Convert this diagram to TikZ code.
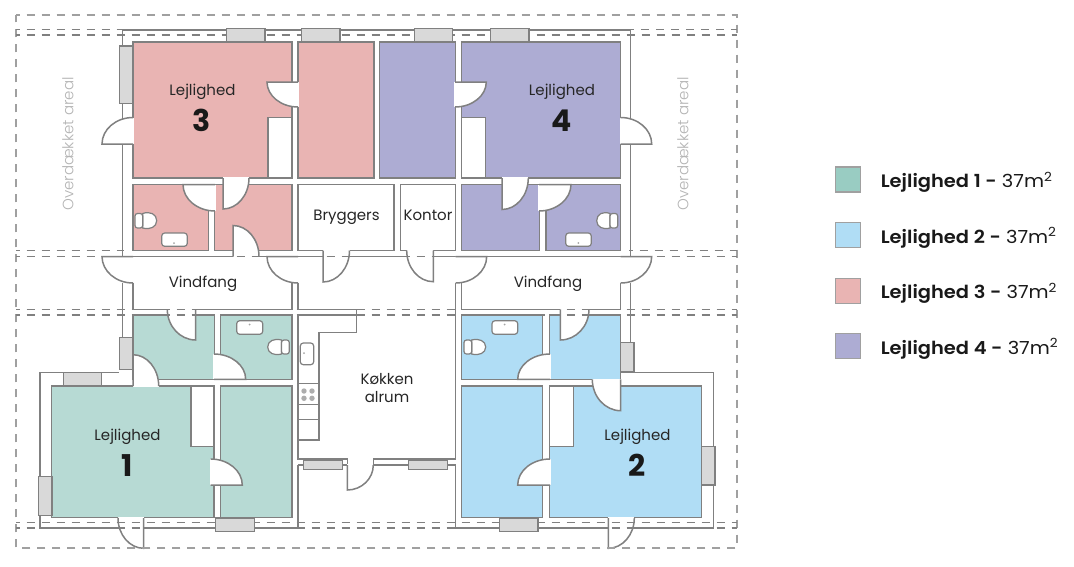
\documentclass[tikz,border=0pt]{standalone}
\usepackage{fontspec}
\setmainfont[BoldFont={Poppins SemiBold}]{Poppins}
\newfontfamily\keyfont[FakeStretch=1.08,BoldFont={Poppins SemiBold}]{Poppins}
\newfontfamily\lysfont{Poppins Light}
\newfontfamily\numfont{Poppins Bold}
\usetikzlibrary{calc, positioning}

\definecolor{gronrum}{HTML}{B7DAD4}
\definecolor{gronkey}{HTML}{99CCC2}
\definecolor{blarum}{HTML}{B0DDF5}
\definecolor{rodrum}{HTML}{E9B4B3}
\definecolor{lillarum}{HTML}{ADACD3}
\definecolor{vaeg}{HTML}{808080}
\definecolor{kant}{HTML}{A0A0A0}
\definecolor{vindue}{HTML}{D9D9D9}
\definecolor{areal}{HTML}{B4B4B4}

% hinge, tip of the leaf, other jamb
\newcommand{\doerblad}[3]{
  \fill[white] (#1) -- (#2) .. controls ($(#2)+0.55*(#3)-0.55*(#1)$) and ($(#3)+0.55*(#2)-0.55*(#1)$) .. (#3) -- cycle;
  \draw[white, line width=1.6pt] (#1) -- (#3);
  \draw[wall] (#1) -- (#2) .. controls ($(#2)+0.55*(#3)-0.55*(#1)$) and ($(#3)+0.55*(#2)-0.55*(#1)$) .. (#3);
}

\begin{document}
\begin{tikzpicture}[
  x=1pt, y=-1pt,
  wall/.style={draw=vaeg, line width=1.5pt},
  room/.style={draw=vaeg, line width=1.5pt},
  window/.style={draw=vaeg, line width=1.5pt, fill=vindue},
  fixture/.style={draw=vaeg, line width=1.2pt, fill=white},
  tagline/.style={draw=vaeg, line width=1.2pt, dash pattern=on 8pt off 7pt, dash phase=4.3pt},
  outerline/.style={draw=kant, line width=1.5pt, dash pattern=on 8pt off 7pt, dash phase=4.3pt},
  roomtext/.style={font=\fontsize{15}{17.5}\selectfont, text=black!85, inner sep=0pt, align=center},
  roomname/.style={roomtext, anchor=base},
  bignum/.style={font=\numfont\fontsize{30}{32}\selectfont, text=black!90, inner sep=0pt, anchor=base},
  coverlabel/.style={font=\lysfont\fontsize{15}{17}\selectfont, text=areal, inner sep=0pt, rotate=90},
  keybox/.style={draw=kant, line width=1.2pt, minimum size=25pt, inner sep=0pt},
  keytext/.style={font=\keyfont\fontsize{18}{20}\selectfont, text=black!90, inner sep=0pt, yshift=-2.5pt}
]
\useasboundingbox[fill=white] (0,0) rectangle (1074,566);

% rooms
\draw[room, fill=rodrum] (133,42) rectangle (292,178);
\draw[room, fill=rodrum] (298,42) rectangle (374,178);
\draw[room, fill=rodrum] (133,184.5) rectangle (208.3,250.5);
\draw[room, fill=rodrum] (214.5,184.5) rectangle (292,250.5);
\draw[room, fill=lillarum] (379.3,42) rectangle (455.7,178);
\draw[room, fill=lillarum] (461.7,42) rectangle (620.7,178);
\draw[room, fill=lillarum] (461.7,184.5) rectangle (539.7,250.5);
\draw[room, fill=lillarum] (546,184.5) rectangle (620.7,250.5);
\draw[room, fill=white] (298,184.5) rectangle (394,250.5);
\draw[room, fill=white] (400.7,184.5) rectangle (455.7,250.5);
\draw[room, fill=white] (268,117.5) rectangle (292,178);
\draw[room, fill=white] (461.7,117.5) rectangle (485.5,178);
\draw[room, fill=gronrum] (133,315) rectangle (214.5,379.3);
\draw[room, fill=gronrum] (220.5,315) rectangle (292,379.3);
\draw[room, fill=gronrum] (51.7,386) rectangle (214.2,517.7);
\draw[room, fill=gronrum] (220.7,386) rectangle (292,517.7);
\draw[room, fill=white] (191,386) rectangle (214.2,446.7);
\draw[room, fill=blarum] (461.7,315) rectangle (542.7,379.3);
\draw[room, fill=blarum] (549.3,315) rectangle (620.7,379.3);
\draw[room, fill=blarum] (461.7,386) rectangle (542.7,517.7);
\draw[room, fill=blarum] (549.3,386) rectangle (701.7,517.7);
\draw[room, fill=white] (549.3,386) rectangle (573.3,446.7);

% walls
\draw[wall] (122.7,256.5) -- (122.7,30) -- (630.7,30) -- (630.7,256.5);
\draw[wall] (133,256.5) -- (233,256.5);
\draw[wall] (259,256.5) -- (323,256.5);
\draw[wall] (349.5,256.5) -- (406.7,256.5);
\draw[wall] (433.3,256.5) -- (620.7,256.5);
\draw[wall] (122.7,283) -- (122.7,337.3);
\draw[wall] (133,283) -- (133,309.3) -- (167.3,309.3);
\draw[wall] (195.7,309.3) -- (292,309.3) -- (292,283);
\draw[wall] (298,283) -- (298,309.3) -- (356.7,309.3) -- (356.7,332.3) -- (319,332.3) -- (319,440) -- (298,440);
\draw[wall] (356.7,315) -- (298,315) -- (298,459) -- (347.3,459) -- (347.3,465);
\draw[wall] (373.3,465) -- (373.3,459) -- (455.7,459) -- (455.7,283);
\draw[wall] (298,383.3) -- (319,383.3);
\draw[wall] (298,404.3) -- (319,404.3);
\draw[wall] (298,419.3) -- (319,419.3);
\draw[wall] (461.7,283) -- (461.7,309.3) -- (560.3,309.3);
\draw[wall] (589,309.3) -- (620.7,309.3) -- (620.7,283);
\draw[wall] (630.7,283) -- (630.7,342.3);
\draw[wall] (298,465) -- (303,465);
\draw[wall] (342,465) -- (347.3,465);
\draw[wall] (373.3,465) -- (408,465);
\draw[wall] (447,465) -- (455.7,465) -- (455.7,528) -- (608.3,528);
\draw[wall] (634.3,528) -- (713.3,528) -- (713.3,372.3) -- (620.7,372.3);
\draw[wall] (298,465) -- (298,528) -- (143.7,528);
\draw[wall] (118,528) -- (40,528) -- (40,372.3) -- (119.3,372.3);

% doors
\doerblad{298,82}{267,82}{298,107}
\doerblad{133,144}{102,144}{133,117.5}
\doerblad{223,178}{223,209}{249,178}
\doerblad{215,184.5}{183,184.5}{215,211}
\doerblad{233,256.5}{233,225.5}{259,256.5}
\doerblad{133,256.5}{102,256.5}{133,283}
\doerblad{298,256.5}{267,256.5}{298,283}
\doerblad{323,250.5}{323,282}{349.5,250.5}
\doerblad{433.3,250.5}{433.3,281.7}{406.7,250.5}
\doerblad{455.7,256.5}{486.7,256.5}{455.7,283}
\doerblad{620.7,256.5}{651.7,256.5}{620.7,283}
\doerblad{455,82}{486.3,82}{455,107}
\doerblad{620.7,144}{651.7,144}{620.7,117.5}
\doerblad{502,178}{502,209.5}{528.3,178}
\doerblad{539,184.5}{571,184.5}{539,211}
\doerblad{195.7,309.3}{195.7,340}{167.3,309.3}
\doerblad{214,379.3}{245.7,379.3}{214,354}
\doerblad{133,386}{133,354.7}{158.7,386}
\doerblad{210.7,485}{242.3,485}{210.7,459}
\doerblad{143.7,518}{143.7,548.3}{118,518}
\doerblad{347.3,465}{347.3,490}{373.3,465}
\doerblad{560.3,309.3}{560.3,340}{589,309.3}
\doerblad{550,379.3}{517.7,379.3}{550,354}
\doerblad{620.7,379.3}{620.7,410.7}{592.3,379.3}
\doerblad{550,485}{517.7,485}{550,459}
\doerblad{608.3,518}{608.3,548.3}{634.3,518}

% dashed roof lines
\draw[outerline] (16,15) -- (737,15) -- (737,548) -- (16,548) -- cycle;
\draw[tagline] (16,29.5) -- (122.7,29.5);
\draw[tagline] (630.7,29.5) -- (737,29.5);
\draw[tagline] (16,35) -- (737,35);
\draw[tagline] (16,250.5) -- (124,250.5);
\draw[tagline] (629,250.5) -- (737,250.5);
\draw[tagline] (16,256.5) -- (737,256.5);
\draw[tagline] (16,309.3) -- (737,309.3);
\draw[tagline] (16,315) -- (737,315);
\draw[tagline] (16,522.7) -- (737,522.7);
\draw[tagline] (16,528) -- (737,528);

% windows
\foreach \wx in {226.7,301.7,414.3,490.7}
  \draw[window] (\wx,28.3) rectangle ++(38.3,13.7);
\draw[window] (119.3,46) rectangle (133,103.5);
\draw[window] (119.3,337.3) rectangle (133,369.5);
\draw[window] (63.3,372.3) rectangle (101.7,386);
\draw[window] (38.3,476.7) rectangle (52,515.3);
\draw[window] (215.7,518) rectangle (254.7,531.3);
\draw[window] (303.3,460) rectangle (342.3,469.3);
\draw[window] (408.3,460) rectangle (447.3,469.3);
\draw[window] (620.7,342.3) rectangle (634,372);
\draw[window] (701.7,446.7) rectangle (715,485);
\draw[window] (499.3,518) rectangle (538,531.3);

% toilets and sinks
\draw[fixture] (142.7,213.5) .. controls (150,211) and (156.7,214) .. (156.7,220.7) .. controls (156.7,227) and (150,230) .. (142.7,228) -- cycle;
\draw[fixture, rounded corners=2.5pt] (135,213.5) rectangle (142.7,228);
\draw[fixture, rounded corners=3pt] (161.7,233) rectangle (187.3,246.3);
\fill[vaeg!70] (174,243) circle (1pt);
\draw[fixture] (610,213.5) .. controls (603,211) and (596.7,214) .. (596.7,220.7) .. controls (596.7,227) and (603,230) .. (610,228) -- cycle;
\draw[fixture, rounded corners=2.5pt] (610,213.5) rectangle (617.7,228);
\draw[fixture, rounded corners=3pt] (565.7,233) rectangle (591.3,246.3);
\fill[vaeg!70] (578.3,243) circle (1pt);
\draw[fixture] (281.5,340) .. controls (274,338) and (267.7,341) .. (267.7,347) .. controls (267.7,353) and (274,356) .. (281.5,354) -- cycle;
\draw[fixture, rounded corners=2.5pt] (281.5,340) rectangle (289.3,354);
\draw[fixture, rounded corners=3pt] (236.7,320.7) rectangle (262.7,334.3);
\fill[vaeg!70] (249.7,324.5) circle (1pt);
\draw[fixture] (471.7,340) .. controls (479,338) and (485.7,341) .. (485.7,347) .. controls (485.7,353) and (479,356) .. (471.7,354) -- cycle;
\draw[fixture, rounded corners=2.5pt] (464,340) rectangle (471.7,354);
\draw[fixture, rounded corners=3pt] (492,320.7) rectangle (517.7,334.3);
\fill[vaeg!70] (504.7,324.5) circle (1pt);

% kitchen sink and burners
\draw[fixture, rounded corners=3pt] (300.3,343) rectangle (313.7,364.7);
\fill[vaeg!70] (304,353) circle (1pt);
\foreach \bx in {304,312}
  \foreach \by in {391,398.3}
    \fill[black!32] (\bx,\by) circle (2.7pt);

% room names
\node[roomname] (leil3) at (202.5,95.7) {Lejlighed};
\node[bignum] (num3) at (201.7,131.7) {3};
\node[roomname] (leil4) at (562,95.7) {Lejlighed};
\node[bignum] (num4) at (561.7,131.7) {4};
\node[roomname] (leil1) at (127.5,440.7) {Lejlighed};
\node[bignum] (num1) at (126.7,476.7) {1};
\node[roomname] (leil2) at (637.5,440.7) {Lejlighed};
\node[bignum] (num2) at (637.3,476.7) {2};
\node[roomname] (vind1) at (203,287.7) {Vindfang};
\node[roomname] (vind2) at (548,287.7) {Vindfang};
\node[roomname] (brygg) at (346.5,220) {Bryggers};
\node[roomname] (kontor) at (428,220) {Kontor};
\node[roomtext] (koekken) at (387,388) {Køkken\\alrum};
\node[coverlabel] (cover1) at (68,144) {Overdækket areal};
\node[coverlabel] (cover2) at (683,144) {Overdækket areal};

% legend
\node[keybox, fill=gronkey] (key1) at (848,179.5) {};
\node[keybox, fill=blarum] (key2) at (848,235.2) {};
\node[keybox, fill=rodrum] (key3) at (848,290.7) {};
\node[keybox, fill=lillarum] (key4) at (848,346.2) {};
\node[keytext, right=19.5pt of key1] (txt1) {\textbf{Lejlighed 1 -} 37m\textsuperscript{2}};
\node[keytext, right=19.5pt of key2] (txt2) {\textbf{Lejlighed 2 -} 37m\textsuperscript{2}};
\node[keytext, right=19.5pt of key3] (txt3) {\textbf{Lejlighed 3 -} 37m\textsuperscript{2}};
\node[keytext, right=19.5pt of key4] (txt4) {\textbf{Lejlighed 4 -} 37m\textsuperscript{2}};
\end{tikzpicture}
\end{document}
